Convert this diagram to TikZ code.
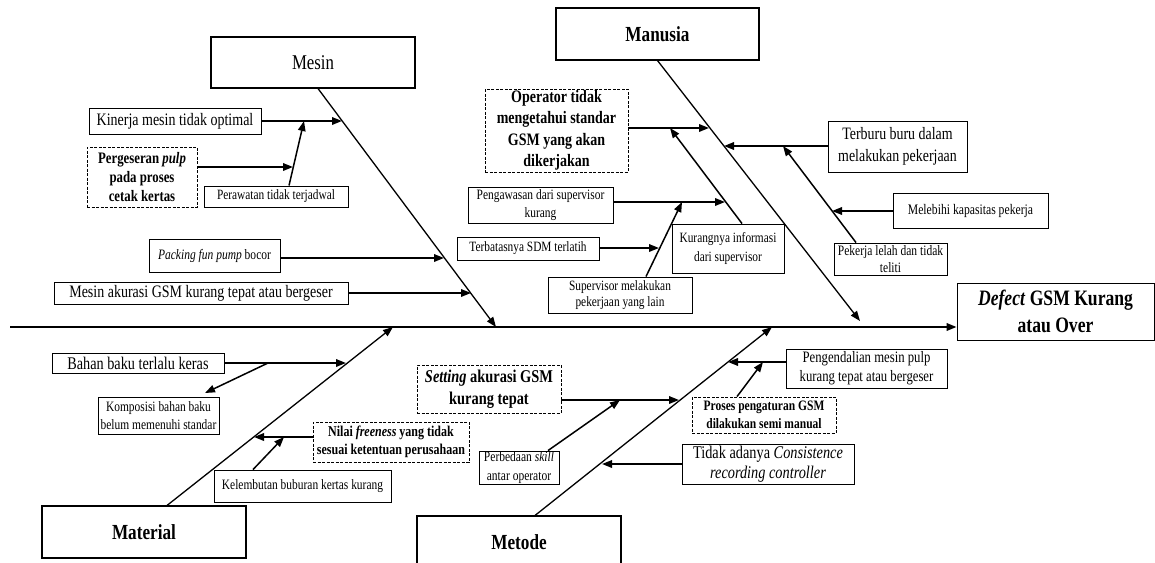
\documentclass[tikz,border=0pt]{standalone}
\usepackage{fontspec}
\setmainfont{Liberation Serif}[FakeStretch=0.8]
\usetikzlibrary{arrows.meta}

\begin{document}
\begin{tikzpicture}[x=1pt,y=-1pt,
  every node/.style={inner sep=0pt, align=center},
  fs/.style 2 args={font=\fontsize{#1}{#2}\selectfont},
  box/.style args={#1/#2}{draw, line width=0.9pt, minimum width=#1pt, minimum height=#2pt},
  dbox/.style args={#1/#2}{box=#1/#2, dash pattern=on 3pt off 1.5pt},
  cat/.style args={#1/#2}{box=#1/#2, line width=1.1pt},
  tip/.style={-{Triangle[length=10pt,width=7.5pt]}},
  bone/.style={line width=1.3pt, tip},
  arr/.style={line width=1.8pt, tip},
  sub/.style={line width=1.5pt, tip},
  spine/.style={line width=2pt, tip},
]
\useasboundingbox (0,0) rectangle (1155,562);
\clip (0,0) rectangle (1155,562);

% ---------- head and spine ----------
\node[box=197/57, fs={22}{26.5}] (effect) at (1055.5,311.5)
  {\textbf{\textit{Defect} GSM Kurang}\\\textbf{atau Over}};
\coordinate (tail) at (10,327);
\draw[spine] (tail) -- (tail -| effect.west);

% ---------- category boxes ----------
\node[cat=204/51, fs={21}{25}] (mesin) at (313,62.5) {Mesin};
\node[cat=203/52, fs={21.5}{25}] (manusia) at (657.5,34) {\textbf{Manusia}};
\node[cat=204/52, fs={21.5}{25}] (material) at (144,532) {\textbf{Material}};
\node[cat=204/52, fs={21.5}{25}] (metode) at (519,542) {\textbf{Metode}};

% ---------- main bones ----------
\coordinate (mesinTip) at (496,327);
\coordinate (manusiaTip) at (860,321);
\coordinate (materialTip) at (393,327);
\coordinate (metodeTip) at (772,327);
\draw[bone] ([xshift=5pt]mesin.south) -- (mesinTip);
\draw[bone] (manusia.south) -- (manusiaTip);
\draw[bone] ([xshift=23pt]material.north) -- (materialTip);
\draw[bone] ([xshift=16pt]metode.north) -- (metodeTip);

% ---------- Mesin causes ----------
\node[box=172/26, fs={17.5}{21}] (kinerja) at (175,121) {Kinerja mesin tidak optimal};
\node[dbox=110/60, fs={16}{18.7}] (pergeseran) at (142,177)
  {\textbf{Pergeseran \textit{pulp}}\\\textbf{pada proses}\\\textbf{cetak kertas}};
\node[box=144/21, fs={14.2}{17}] (perawatan) at (276,196.5) {Perawatan tidak terjadwal};
\node[box=131/33, fs={14.4}{17}] (packing) at (214.5,255.5) {\textit{Packing fun pump} bocor};
\node[box=294/22, fs={17.5}{21}] (akurasi) at (201,293) {Mesin akurasi GSM kurang tepat atau bergeser};

\coordinate (kinEnd) at (342,121);
\coordinate (perawEnd) at (304,121);
\coordinate (pergEnd) at (293,167);
\coordinate (packEnd) at (444,258);
\coordinate (akurEnd) at (471,293);
\draw[arr] (kinerja.east) -- (kinEnd);
\draw[sub] ([xshift=13pt]perawatan.north) -- (perawEnd);
\draw[arr] (pergEnd -| pergeseran.east) -- (pergEnd);
\draw[arr] (packEnd -| packing.east) -- (packEnd);
\draw[arr] (akurasi.east) -- (akurEnd);

% ---------- Manusia causes ----------
\node[dbox=143/83, fs={17.5}{21.5}] (operator) at (556.5,130.5)
  {\textbf{Operator tidak}\\\textbf{mengetahui standar}\\\textbf{GSM yang akan}\\\textbf{dikerjakan}};
\node[box=139/51, fs={17.4}{21.5}] (terburu) at (897.5,146.5) {Terburu buru dalam\\melakukan pekerjaan};
\node[box=145/36, fs={14.3}{17.7}] (pengawasan) at (540.5,205) {Pengawasan dari supervisor\\kurang};
\node[box=112/49, fs={14.2}{19.3}] (kurangnya) at (728,248.5) {Kurangnya informasi\\dari supervisor};
\node[box=142/23, fs={14.2}{17}] (sdm) at (528,248.5) {Terbatasnya SDM terlatih};
\node[box=144/36, fs={14.2}{15.7}] (supervisor) at (620,295) {Supervisor melakukan\\pekerjaan yang lain};
\node[box=155/35, fs={14.6}{17}] (melebihi) at (970.5,210.5) {Melebihi kapasitas pekerja};
\node[box=113/32, fs={14.4}{17.3}] (lelah) at (890.5,259) {Pekerja lelah dan tidak\\teliti};

\coordinate (operEnd) at (709,128);
\coordinate (terbEnd) at (724,146);
\coordinate (kurEnd) at (670,128);
\coordinate (pengEnd) at (725,202);
\coordinate (supEnd) at (682,202);
\coordinate (sdmEnd) at (659,248);
\coordinate (lelahEnd) at (783,146);
\coordinate (melEnd) at (832,211);
\draw[arr] (operEnd -| operator.east) -- (operEnd);
\draw[arr] (terbEnd -| terburu.west) -- (terbEnd);
\draw[sub] ([xshift=14pt]kurangnya.north) -- (kurEnd);
\draw[arr] (pengEnd -| pengawasan.east) -- (pengEnd);
\draw[sub] ([xshift=26pt]supervisor.north) -- (supEnd);
\draw[arr] (sdmEnd -| sdm.east) -- (sdmEnd);
\draw[sub] ([xshift=-34.5pt]lelah.north) -- (lelahEnd);
\draw[arr] (melEnd -| melebihi.west) -- (melEnd);

% ---------- Material causes ----------
\node[box=172/20, fs={17.8}{21}] (bahan) at (138,363) {Bahan baku terlalu keras};
\node[box=121/37, fs={14.3}{17.7}] (komposisi) at (158.5,415.5) {Komposisi bahan baku\\belum memenuhi standar};
\node[dbox=156/40, fs={15}{18.3}] (nilai) at (391,442)
  {\textbf{Nilai \textit{freeness} yang tidak}\\\textbf{sesuai ketentuan perusahaan}};
\node[box=177/32, fs={14.3}{17}] (kelembutan) at (302.5,486) {Kelembutan buburan kertas kurang};

\coordinate (bahanEnd) at (346,363);
\coordinate (bahanFork) at (268,363);
\coordinate (kompEnd) at (205,393);
\coordinate (nilaiEnd) at (254,437);
\coordinate (kelEnd) at (284,437);
\draw[arr] (bahan.east) -- (bahanEnd);
\draw[sub] (bahanFork) -- (kompEnd);
\draw[arr] (nilaiEnd -| nilai.west) -- (nilaiEnd);
\draw[sub] ([xshift=-49.5pt]kelembutan.north) -- (kelEnd);

% ---------- Metode causes ----------
\node[dbox=144/48, fs={18}{21.7}] (setting) at (489,389)
  {\textbf{\textit{Setting} akurasi GSM}\\\textbf{kurang tepat}};
\node[box=80/33, fs={14.4}{19}] (skill) at (519,467.5) {Perbedaan \textit{skill}\\antar operator};
\node[box=161/39, fs={15.9}{19}] (pengendalian) at (866.5,368.5) {Pengendalian mesin pulp\\kurang tepat atau bergeser};
\node[dbox=144/36, fs={14.4}{18.3}] (proses) at (764,415)
  {\textbf{Proses pengaturan GSM}\\\textbf{dilakukan semi manual}};
\node[box=172/40, fs={17.9}{20}] (consist) at (768,464)
  {Tidak adanya \textit{Consistence}\\\textit{recording controller}};

\coordinate (setEnd) at (679,400);
\coordinate (skillEnd) at (620,400);
\coordinate (pendEnd) at (728,362);
\coordinate (prosEnd) at (763,362);
\coordinate (consEnd) at (602,464);
\draw[arr] (setEnd -| setting.east) -- (setEnd);
\draw[sub] ([xshift=29pt]skill.north) -- (skillEnd);
\draw[arr] (pendEnd -| pengendalian.west) -- (pendEnd);
\draw[sub] ([xshift=-27pt]proses.north) -- (prosEnd);
\draw[arr] (consist.west) -- (consEnd);
\end{tikzpicture}
\end{document}
